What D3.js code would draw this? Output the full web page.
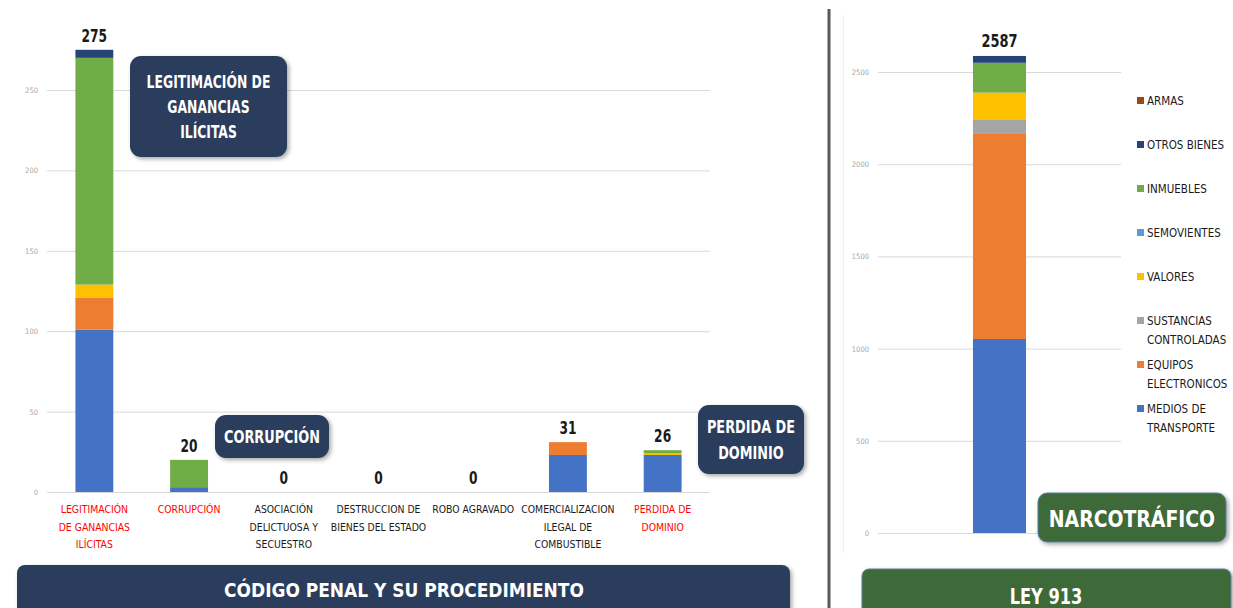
<!DOCTYPE html>
<html>
<head>
<meta charset="utf-8">
<script src="https://cdn.jsdelivr.net/npm/d3@7"></script>
<style>
  body { margin: 0; background: #fff; }
  svg { display: block; }
  .narrow { font-family: "DejaVu Sans Condensed", "Liberation Sans Narrow", sans-serif; }
  .tick text { fill: #a6a6a6; font-size: 7.5px; }
  .tick line { stroke: #d9d9d9; }
</style>
</head>
<body>
<div id="chart"></div>
<script>
// categories (left chart) and their label lines
var categories = ["LEGITIMACIÓN DE GANANCIAS ILÍCITAS", "CORRUPCIÓN", "ASOCIACIÓN DELICTUOSA Y SECUESTRO",
  "DESTRUCCION DE BIENES DEL ESTADO", "ROBO AGRAVADO", "COMERCIALIZACION ILEGAL DE COMBUSTIBLE", "PERDIDA DE DOMINIO"];
var categoryLines = [["LEGITIMACIÓN", "DE GANANCIAS", "ILÍCITAS"], ["CORRUPCIÓN"], ["ASOCIACIÓN", "DELICTUOSA Y", "SECUESTRO"],
  ["DESTRUCCION DE", "BIENES DEL ESTADO"], ["ROBO AGRAVADO"], ["COMERCIALIZACION", "ILEGAL DE", "COMBUSTIBLE"], ["PERDIDA DE", "DOMINIO"]];
var categoryRed = [true, true, false, false, false, false, true];

// series (stack order bottom -> top)
var series = ["MEDIOS DE TRANSPORTE", "EQUIPOS ELECTRONICOS", "SUSTANCIAS CONTROLADAS", "VALORES",
  "SEMOVIENTES", "INMUEBLES", "OTROS BIENES", "ARMAS"];
var seriesLines = [["MEDIOS DE", "TRANSPORTE"], ["EQUIPOS", "ELECTRONICOS"], ["SUSTANCIAS", "CONTROLADAS"], ["VALORES"],
  ["SEMOVIENTES"], ["INMUEBLES"], ["OTROS BIENES"], ["ARMAS"]];
var seriesColors = ["#4472c4", "#ed7d31", "#a5a5a5", "#ffc000", "#5b9bd5", "#70ad47", "#264478", "#9e480e"];

// left chart values, one array per series
var mediosTransporte = [101, 3, 0, 0, 0, 23, 23];
var equiposElectronicos = [20, 0, 0, 0, 0, 8, 0];
var sustanciasControladas = [0, 0, 0, 0, 0, 0, 0];
var valores = [8, 0, 0, 0, 0, 0, 1];
var semovientes = [0, 0, 0, 0, 0, 0, 0];
var inmuebles = [141, 17, 0, 0, 0, 0, 2];
var otrosBienes = [5, 0, 0, 0, 0, 0, 0];
var armas = [0, 0, 0, 0, 0, 0, 0];

// right chart (Ley 913 - narcotrafico), one value per series
var narcoValues = [1052, 1112, 76, 148, 0, 162, 37, 0];

var leftTicks = [0, 50, 100, 150, 200, 250];
var rightTicks = [0, 500, 1000, 1500, 2000, 2500];

var svgWidth = 1233, svgHeight = 608;
var svg = d3.select("#chart").append("svg")
  .attr("width", svgWidth)
  .attr("height", svgHeight);

var defs = svg.append("defs");
var shadow = defs.append("filter").attr("id", "shadow")
  .attr("x", "-10%").attr("y", "-10%").attr("width", "125%").attr("height", "135%");
shadow.append("feDropShadow")
  .attr("dx", 2).attr("dy", 2).attr("stdDeviation", 2)
  .attr("flood-color", "#000").attr("flood-opacity", 0.35);

// squeeze text horizontally (the original uses a narrow Calibri-like face)
function condense(sel, factor) {
  sel.each(function() {
    var len = this.getComputedTextLength();
    d3.select(this).attr("textLength", len * factor).attr("lengthAdjust", "spacingAndGlyphs");
  });
}

// ---------- left chart ----------
var leftSeries = [mediosTransporte, equiposElectronicos, sustanciasControladas, valores, semovientes, inmuebles, otrosBienes, armas];
var leftData = categories.map(function(c, i) {
  var row = { cat: c };
  series.forEach(function(s, j) { row[s] = leftSeries[j][i]; });
  return row;
});

var xL = d3.scaleBand().domain(categories).range([47, 710]).paddingInner(0.6).paddingOuter(0.3);
var yL = d3.scaleLinear().domain([0, 300]).range([492, 9.6]);

svg.append("g")
  .attr("class", "narrow")
  .attr("transform", "translate(47,0)")
  .call(d3.axisLeft(yL).tickValues(leftTicks).tickSize(-663).tickPadding(9).tickFormat(d3.format("d")))
  .call(g => g.select(".domain").remove());

var stackGen = d3.stack().keys(series);
var leftStack = stackGen(leftData);

svg.append("g").selectAll("g")
  .data(leftStack)
  .enter().append("g")
  .attr("fill", (d, i) => seriesColors[i])
  .selectAll("rect")
  .data(d => d)
  .enter().append("rect")
  .attr("x", d => xL(d.data.cat))
  .attr("y", d => yL(d[1]))
  .attr("width", xL.bandwidth())
  .attr("height", d => yL(d[0]) - yL(d[1]));

// totals
var leftTotals = svg.append("g").selectAll("text")
  .data(leftData)
  .enter().append("text")
  .attr("class", "narrow")
  .attr("x", d => xL(d.cat) + xL.bandwidth() / 2)
  .attr("y", d => yL(d3.sum(series, s => d[s])) - 8)
  .attr("text-anchor", "middle")
  .attr("font-size", 17)
  .attr("font-weight", "bold")
  .attr("fill", "#1a1a1a")
  .text(d => d3.sum(series, s => d[s]));
condense(leftTotals, 0.8);

// category labels
var catLabels = svg.append("g").selectAll("text")
  .data(categories)
  .enter().append("text")
  .attr("class", "narrow")
  .attr("text-anchor", "middle")
  .attr("font-size", 11)
  .attr("fill", (d, i) => categoryRed[i] ? "#ff0000" : "#1a1a1a");
var catTspans = catLabels.selectAll("tspan")
  .data((d, i) => categoryLines[i].map(l => ({ line: l, cat: d })))
  .enter().append("tspan")
  .attr("x", d => xL(d.cat) + xL.bandwidth() / 2)
  .attr("y", (d, k) => 513 + k * 17.5)
  .text(d => d.line);
condense(catTspans, 0.94);

// callout boxes
function callout(x, y, w, h, lines, fontSize, lineGap, fill, factor) {
  svg.append("rect")
    .attr("x", x).attr("y", y).attr("width", w).attr("height", h)
    .attr("rx", 11).attr("ry", 11)
    .attr("fill", fill)
    .attr("filter", "url(#shadow)");
  var t = svg.append("text")
    .attr("class", "narrow")
    .attr("text-anchor", "middle")
    .attr("font-size", fontSize)
    .attr("font-weight", "bold")
    .attr("fill", "#fff");
  var firstY = y + h / 2 - (lines.length - 1) * lineGap / 2 + fontSize * 0.36;
  lines.forEach(function(l, k) {
    t.append("tspan").attr("x", x + w / 2).attr("y", firstY + k * lineGap).text(l);
  });
  condense(t.selectAll("tspan"), factor);
}

callout(130, 56, 157, 101, ["LEGITIMACIÓN DE", "GANANCIAS", "ILÍCITAS"], 17, 25, "#2a3d5d", 0.81);
callout(215, 415, 114, 43, ["CORRUPCIÓN"], 17, 0, "#2a3d5d", 0.84);
callout(698, 405, 106, 69, ["PERDIDA DE", "DOMINIO"], 17, 26, "#2a3d5d", 0.84);

// bottom banner left
svg.append("rect")
  .attr("x", 17).attr("y", 565).attr("width", 773).attr("height", 52)
  .attr("rx", 8).attr("ry", 8)
  .attr("fill", "#2a3d5d")
  .attr("filter", "url(#shadow)");
svg.append("text")
  .attr("class", "narrow")
  .attr("x", 404).attr("y", 597)
  .attr("text-anchor", "middle")
  .attr("font-size", 20)
  .attr("font-weight", "bold")
  .attr("fill", "#fff")
  .text("CÓDIGO PENAL Y SU PROCEDIMIENTO")
  .call(condense, 0.945);

// divider
svg.append("line")
  .attr("x1", 829).attr("x2", 829).attr("y1", 9).attr("y2", 608)
  .attr("stroke", "#595959").attr("stroke-width", 3);

// ---------- right chart ----------
svg.append("line")
  .attr("x1", 843.5).attr("x2", 843.5).attr("y1", 15).attr("y2", 553)
  .attr("stroke", "#f0f0f0").attr("stroke-width", 1);

var narcoRow = { cat: "LEY 913" };
series.forEach(function(s, j) { narcoRow[s] = narcoValues[j]; });
var narcoData = [narcoRow];

var xR = d3.scaleBand().domain(["LEY 913"]).range([878, 1121]).paddingOuter(1.79);
var yR = d3.scaleLinear().domain([0, 2500]).range([533, 72]);

svg.append("g")
  .attr("class", "narrow")
  .attr("transform", "translate(878,0)")
  .call(d3.axisLeft(yR).tickValues(rightTicks).tickSize(-243).tickPadding(9).tickFormat(d3.format("d")))
  .call(g => g.select(".domain").remove());

var rightStack = stackGen(narcoData);
svg.append("g").selectAll("rect")
  .data(rightStack)
  .enter().append("rect")
  .attr("fill", (d, i) => seriesColors[i])
  .attr("x", d => xR(d[0].data.cat))
  .attr("y", d => yR(d[0][1]))
  .attr("width", xR.bandwidth())
  .attr("height", d => yR(d[0][0]) - yR(d[0][1]));

svg.append("text")
  .attr("class", "narrow")
  .attr("x", xR("LEY 913") + xR.bandwidth() / 2)
  .attr("y", yR(d3.sum(narcoValues)) - 9)
  .attr("text-anchor", "middle")
  .attr("font-size", 18)
  .attr("font-weight", "bold")
  .attr("fill", "#1a1a1a")
  .text(d3.sum(narcoValues))
  .call(condense, 0.8);

// legend (top item = last series)
var legend = svg.append("g").selectAll("g")
  .data(series.slice().reverse())
  .enter().append("g")
  .attr("transform", (d, i) => "translate(1137," + (101 + i * 44) + ")");
legend.append("rect")
  .attr("x", 0).attr("y", -4)
  .attr("width", 7).attr("height", 7)
  .attr("fill", d => seriesColors[series.indexOf(d)]);
legend.append("text")
  .attr("class", "narrow")
  .attr("font-size", 11.5)
  .attr("fill", "#1a1a1a")
  .selectAll("tspan")
  .data(d => seriesLines[series.indexOf(d)])
  .enter().append("tspan")
  .attr("x", 10)
  .attr("y", (d, k) => 4 + k * 19)
  .text(d => d);

// NARCOTRÁFICO box
svg.append("rect")
  .attr("x", 1038).attr("y", 493).attr("width", 188).attr("height", 49)
  .attr("rx", 9).attr("ry", 9)
  .attr("fill", "#3c6b37")
  .attr("stroke", "#5d7fa6").attr("stroke-width", 1)
  .attr("filter", "url(#shadow)");
svg.append("text")
  .attr("class", "narrow")
  .attr("x", 1132).attr("y", 527)
  .attr("text-anchor", "middle")
  .attr("font-size", 23)
  .attr("font-weight", "bold")
  .attr("fill", "#fff")
  .text("NARCOTRÁFICO")
  .call(condense, 0.91);

// LEY 913 banner
svg.append("rect")
  .attr("x", 862).attr("y", 569).attr("width", 369).attr("height", 50)
  .attr("rx", 7).attr("ry", 7)
  .attr("fill", "#3c6b37")
  .attr("stroke", "#5d7fa6").attr("stroke-width", 1)
  .attr("filter", "url(#shadow)");
svg.append("text")
  .attr("class", "narrow")
  .attr("x", 1046).attr("y", 604)
  .attr("text-anchor", "middle")
  .attr("font-size", 22)
  .attr("font-weight", "bold")
  .attr("fill", "#fff")
  .text("LEY 913")
  .call(condense, 0.82);
</script>
</body>
</html>
